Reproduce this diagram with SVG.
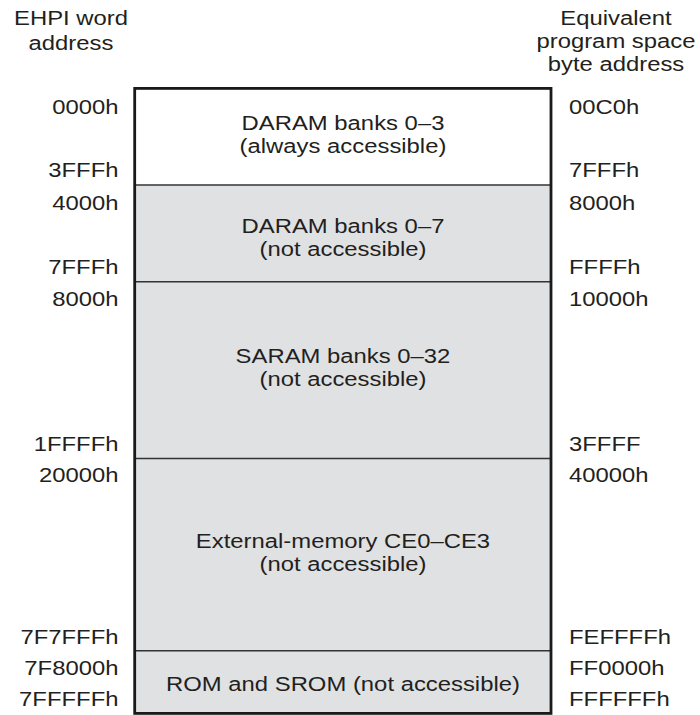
<svg xmlns="http://www.w3.org/2000/svg" width="700" height="715" viewBox="0 0 700 715">
<style>
text{font-family:"Liberation Sans",Arial,sans-serif;font-size:21px;fill:#231f20}
.l{text-anchor:end}
.r{text-anchor:start}
.c{text-anchor:middle}
.gray{fill:#e0e1e3;stroke:none}
.div{stroke:#333;stroke-width:1.6;fill:none}
.frame{fill:none;stroke:#1a1a1a;stroke-width:2.8}
</style>
<rect x="0" y="0" width="700" height="715" fill="#ffffff"/>
<g id="headers">
<g transform="scale(1.136 1)">
<text class="c" x="62.5" y="25">EHPI word</text>
<text class="c" x="62.5" y="50">address</text>
<text class="c" x="542.25" y="25">Equivalent</text>
<text class="c" x="542.25" y="48">program space</text>
<text class="c" x="542.25" y="71.5">byte address</text>
</g>
</g>
<g id="region-daram03">
<rect x="134.5" y="88.5" width="416.5" height="96.5" fill="#ffffff"/>
<g transform="scale(1.136 1)">
<text class="c" x="301.94" y="130">DARAM banks 0–3</text>
<text class="c" x="301.94" y="153">(always accessible)</text>
<text class="l" x="104.31" y="114">0000h</text>
<text class="l" x="104.31" y="177.5">3FFFh</text>
<text class="r" x="500.88" y="114">00C0h</text>
<text class="r" x="500.88" y="177.5">7FFFh</text>
</g>
</g>
<g id="region-daram07">
<rect class="gray" x="134.5" y="185" width="416.5" height="96.7"/>
<g transform="scale(1.136 1)">
<text class="c" x="301.94" y="233.5">DARAM banks 0–7</text>
<text class="c" x="301.94" y="256.5">(not accessible)</text>
<text class="l" x="104.31" y="210">4000h</text>
<text class="l" x="104.31" y="274">7FFFh</text>
<text class="r" x="500.88" y="210">8000h</text>
<text class="r" x="500.88" y="274">FFFFh</text>
</g>
</g>
<g id="region-saram">
<rect class="gray" x="134.5" y="281.7" width="416.5" height="176.8"/>
<g transform="scale(1.136 1)">
<text class="c" x="301.94" y="363">SARAM banks 0–32</text>
<text class="c" x="301.94" y="386">(not accessible)</text>
<text class="l" x="104.31" y="306">8000h</text>
<text class="l" x="104.31" y="451.5">1FFFFh</text>
<text class="r" x="500.88" y="306">10000h</text>
<text class="r" x="500.88" y="451.5">3FFFF</text>
</g>
</g>
<g id="region-external">
<rect class="gray" x="134.5" y="458.5" width="416.5" height="192.2"/>
<g transform="scale(1.136 1)">
<text class="c" x="301.94" y="548">External-memory CE0–CE3</text>
<text class="c" x="301.94" y="571">(not accessible)</text>
<text class="l" x="104.31" y="482.5">20000h</text>
<text class="l" x="104.31" y="644">7F7FFFh</text>
<text class="r" x="500.88" y="482.5">40000h</text>
<text class="r" x="500.88" y="644">FEFFFFh</text>
</g>
</g>
<g id="region-rom">
<rect class="gray" x="134.5" y="650.7" width="416.5" height="62.8"/>
<g transform="scale(1.136 1)">
<text class="c" x="301.94" y="691.5">ROM and SROM (not accessible)</text>
<text class="l" x="104.31" y="675.5">7F8000h</text>
<text class="l" x="104.31" y="706.5">7FFFFFh</text>
<text class="r" x="500.88" y="675.5">FF0000h</text>
<text class="r" x="500.88" y="706.5">FFFFFFh</text>
</g>
</g>
<g id="dividers">
<line class="div" x1="134.5" y1="185" x2="551" y2="185"/>
<line class="div" x1="134.5" y1="281.7" x2="551" y2="281.7"/>
<line class="div" x1="134.5" y1="458.5" x2="551" y2="458.5"/>
<line class="div" x1="134.5" y1="650.7" x2="551" y2="650.7"/>
<rect class="frame" x="134.7" y="88.4" width="416.3" height="625"/>
</g>
</svg>
